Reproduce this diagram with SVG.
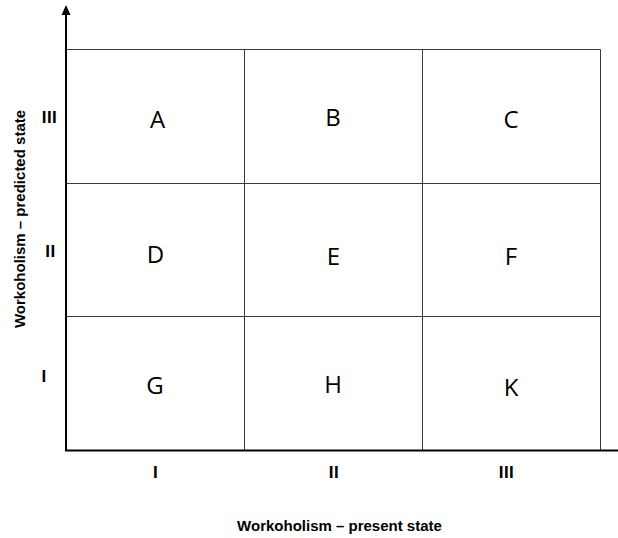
<svg xmlns="http://www.w3.org/2000/svg" width="618" height="538" viewBox="0 0 618 538">
<style>
.grid{stroke:#3a3a3a;stroke-width:1;fill:none}
.axis{stroke:#000;stroke-width:2;fill:none}
.cell{font-family:"Open Sans","Liberation Sans",sans-serif;font-size:24px;fill:#000;text-anchor:middle}
.num{font-family:"Liberation Sans",Arial,sans-serif;font-size:17px;font-weight:bold;fill:#000;text-anchor:middle;letter-spacing:0.5px}
.lbl{font-family:"Liberation Sans",Arial,sans-serif;font-size:15px;font-weight:bold;fill:#000;text-anchor:middle}
</style>
<rect width="618" height="538" fill="#fff"/>
<g id="connectors">
<path class="grid" d="M66 49.5H600.5V450M244.5 49.5V450M422.5 49.5V450M66 183.5H600.5M66 316.5H600.5"/>
<path class="axis" d="M66 14V450.5H618"/>
<path d="M66 5L61.5 15H70.5Z" fill="#000"/>
</g>
<g id="cell-A"><text class="cell" x="157.5" y="127.7">A</text></g>
<g id="cell-B"><text class="cell" x="333" y="126">B</text></g>
<g id="cell-C"><text class="cell" x="511" y="128.3">C</text></g>
<g id="cell-D"><text class="cell" x="155.5" y="262.7">D</text></g>
<g id="cell-E"><text class="cell" x="333.5" y="265">E</text></g>
<g id="cell-F"><text class="cell" x="511" y="265">F</text></g>
<g id="cell-G"><text class="cell" x="155" y="394">G</text></g>
<g id="cell-H"><text class="cell" x="333" y="393.3">H</text></g>
<g id="cell-K"><text class="cell" x="511" y="395.7">K</text></g>
<g id="y-ticks">
<text class="num" x="49.5" y="123">III</text>
<text class="num" x="50.5" y="257">II</text>
<text class="num" x="44" y="382">I</text>
</g>
<g id="x-ticks">
<text class="num" x="155.5" y="478">I</text>
<text class="num" x="334" y="478">II</text>
<text class="num" x="506.5" y="478">III</text>
</g>
<g id="x-label"><text class="lbl" x="339.5" y="531">Workoholism – present state</text></g>
<g id="y-label"><text class="lbl" transform="translate(25,219) rotate(-90)">Workoholism – predicted state</text></g>
</svg>
